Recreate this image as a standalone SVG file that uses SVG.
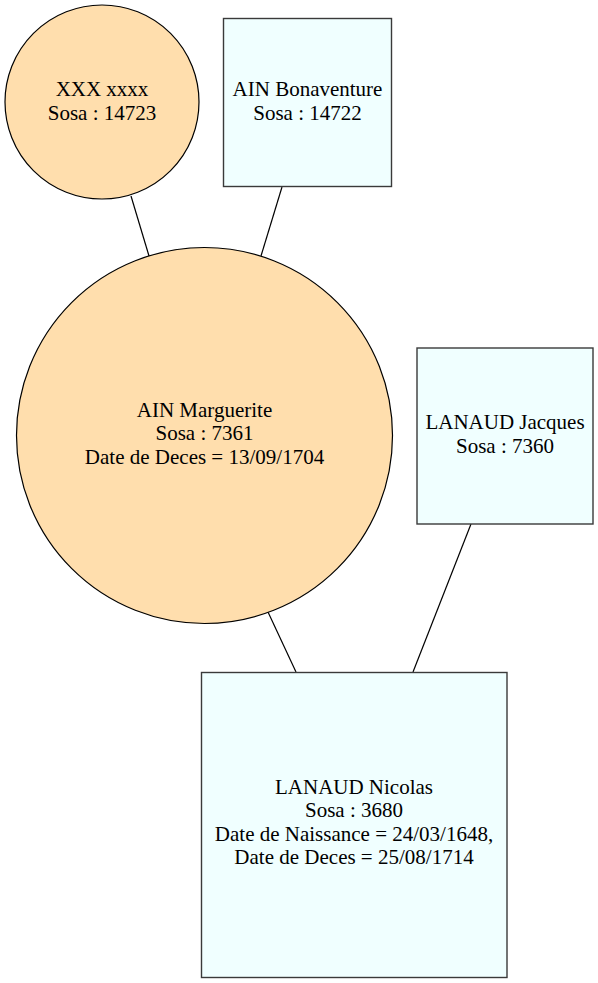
<svg xmlns="http://www.w3.org/2000/svg" width="598" height="983" viewBox="0 0 598 983">
<style>
.f{fill:#ffdead;stroke:#000;stroke-width:1.2}
.m{fill:#f0ffff;stroke:#3a3a3a;stroke-width:1.4}
.e{stroke:#000;stroke-width:1.2;fill:none}
text{font-size:21px;fill:#000;text-anchor:middle}
</style>
<rect width="598" height="983" fill="#fff"/>
<g id="edges">
<line class="e" x1="131" y1="196" x2="149" y2="256"/>
<line class="e" x1="282" y1="187" x2="261" y2="256"/>
<line class="e" x1="268" y1="612" x2="296" y2="672"/>
<line class="e" x1="471" y1="524" x2="413" y2="672"/>
</g>
<g font-family="'Liberation Serif', 'DejaVu Serif', serif">
<g id="n14723">
<circle class="f" cx="102" cy="102" r="97"/>
<text x="102" y="96">XXX xxxx</text>
<text x="102" y="119.5">Sosa : 14723</text>
</g>
<g id="n14722">
<rect class="m" x="223.5" y="18.5" width="168" height="168"/>
<text x="307.5" y="96">AIN Bonaventure</text>
<text x="307.5" y="119.5">Sosa : 14722</text>
</g>
<g id="n7361">
<circle class="f" cx="204.5" cy="435.5" r="188"/>
<text x="204.5" y="416.5">AIN Marguerite</text>
<text x="204.5" y="440">Sosa : 7361</text>
<text x="204.5" y="463.5">Date de Deces = 13/09/1704</text>
</g>
<g id="n7360">
<rect class="m" x="417" y="348" width="176" height="176"/>
<text x="505" y="429">LANAUD Jacques</text>
<text x="505" y="452.5">Sosa : 7360</text>
</g>
<g id="n3680">
<rect class="m" x="201.5" y="672.5" width="305.5" height="305"/>
<text x="354" y="793.5">LANAUD Nicolas</text>
<text x="354" y="817">Sosa : 3680</text>
<text x="354" y="840.5">Date de Naissance = 24/03/1648,</text>
<text x="354" y="864">Date de Deces = 25/08/1714</text>
</g>
</g>
</svg>
